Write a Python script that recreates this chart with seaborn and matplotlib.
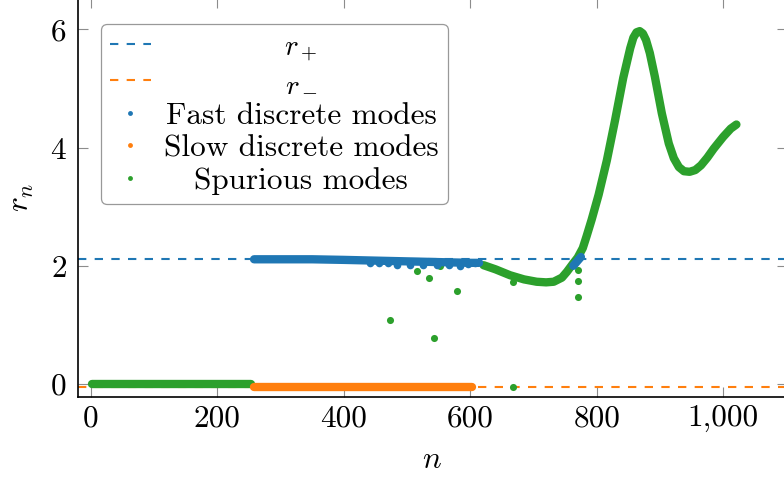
import numpy as np
import pandas as pd
import seaborn as sns
import matplotlib.pyplot as plt
from matplotlib.lines import Line2D
from matplotlib.ticker import FuncFormatter
from matplotlib.transforms import IdentityTransform

# reference levels r_+ and r_-
r_plus = 2.11
r_minus = -0.05

# spurious modes, flat branch near zero
spur_low_n = [1, 64, 128, 192, 253]
spur_low_r = [0.0, 0.0, 0.0, 0.0, 0.0]

# slow discrete modes
slow_n = [258, 344, 430, 516, 603]
slow_r = [-0.05, -0.05, -0.05, -0.05, -0.05]

# fast discrete modes (dense band)
fast_n = [258, 300, 350, 400, 440, 480, 520, 560, 600, 614]
fast_r = [2.11, 2.11, 2.11, 2.10, 2.09, 2.08, 2.07, 2.06, 2.05, 2.05]

# fast discrete modes scattered just below the band
fast_pts_n = [441, 455, 470, 484, 505, 526, 548, 566, 584, 597, 608]
fast_pts_r = [2.04, 2.05, 2.04, 2.01, 2.02, 2.01, 2.02, 2.01, 1.99, 2.03, 2.05]

# fast discrete modes near n = 770
fast_tail_n = [763, 767, 771, 775]
fast_tail_r = [2.00, 2.05, 2.10, 2.15]

# spurious modes, continuous branch
spur_n = [621, 640, 663, 685, 705, 720, 732, 745, 753, 762, 770, 778, 784, 792,
          803, 816, 829, 842, 853, 858, 863, 868, 873, 878, 884, 892, 903, 914,
          922, 930, 938, 947, 956, 965, 975, 985, 1000, 1012, 1021]
spur_r = [2.01, 1.94, 1.84, 1.77, 1.73, 1.72, 1.73, 1.80, 1.90, 2.03, 2.14, 2.30, 2.50, 2.78,
          3.20, 3.78, 4.46, 5.18, 5.68, 5.86, 5.95, 5.97, 5.93, 5.82, 5.60, 5.20, 4.58, 4.07,
          3.82, 3.67, 3.60, 3.59, 3.62, 3.70, 3.83, 3.98, 4.18, 4.32, 4.39]

# isolated spurious modes
iso_n = [473, 515, 535, 542, 552, 579, 667, 668, 771, 771, 770]
iso_r = [1.08, 1.92, 1.80, 0.77, 1.99, 1.58, 1.73, -0.05, 1.93, 1.74, 1.48]

xticks = [0, 200, 400, 600, 800, 1000]
yticks = [0, 2, 4, 6]

blue, orange, green = '#1f77b4', '#ff7f0e', '#2ca02c'

sns.set_theme(style='ticks')
plt.rcParams['font.family'] = ['cmr10']
plt.rcParams['mathtext.fontset'] = 'cm'
plt.rcParams['axes.formatter.use_mathtext'] = True
plt.rcParams['axes.unicode_minus'] = False
plt.rcParams['text.color'] = 'black'
plt.rcParams['axes.labelcolor'] = 'black'
fs = 22.5
fs_math = 21  # subscript minus vanishes at larger sizes

fig = plt.figure(figsize=(7.84, 4.82), dpi=100)
ax = fig.add_axes([0.0991, 0.1757, 0.9047, 0.8284])

band = dict(linewidth=6.0, solid_capstyle='round', solid_joinstyle='round',
            estimator=None, sort=False, legend=False)

ax.axhline(r_plus, color=blue, lw=1.5, ls=(0, (4, 4)), zorder=1)
ax.axhline(r_minus, color=orange, lw=1.5, ls=(0, (4, 4)), zorder=1)

sns.lineplot(x=spur_low_n, y=spur_low_r, color=green, ax=ax, **band)
sns.lineplot(x=spur_n, y=spur_r, color=green, ax=ax, **band)
sns.scatterplot(x=iso_n, y=iso_r, color=green, s=26, linewidth=0, ax=ax, legend=False)
sns.lineplot(x=slow_n, y=slow_r, color=orange, ax=ax, **band)
sns.lineplot(x=fast_n, y=fast_r, color=blue, ax=ax, **band)
sns.scatterplot(x=fast_pts_n, y=fast_pts_r, color=blue, s=30, linewidth=0, ax=ax, legend=False)
sns.lineplot(x=fast_tail_n, y=fast_tail_r, color=blue, ax=ax, **band)

ax.set_xlim(-21, 1101)
ax.set_ylim(-0.225, 6.53)
ax.set_xticks(xticks)
ax.set_yticks(yticks)
ax.xaxis.set_major_formatter(FuncFormatter(lambda v, p: f'{v:,.0f}'))
ax.tick_params(direction='in', length=7, width=0.8, color='0.55', labelsize=fs,
               top=True, right=True, labelcolor='black')
ax.tick_params(axis='y', pad=8)
ax.tick_params(axis='x', pad=5)
for sp in ax.spines.values():
    sp.set_color('black')
    sp.set_linewidth(1.2)
ax.set_xlabel('$n$', fontsize=fs, labelpad=10)
ax.set_ylabel('$r_n$', fontsize=fs, labelpad=10)

handles = [
    Line2D([], [], color=blue, lw=1.5, ls=(0, (4, 4))),
    Line2D([], [], color=orange, lw=1.5, ls=(0, (4, 4))),
    Line2D([], [], ls='', marker='o', ms=3.5, mew=0, color=blue),
    Line2D([], [], ls='', marker='o', ms=3.5, mew=0, color=orange),
    Line2D([], [], ls='', marker='o', ms=3.5, mew=0, color=green),
]
labels = ['$r_+$', '$r_-$', 'Fast discrete modes', 'Slow discrete modes', 'Spurious modes']
sizes = [fs_math, fs_math, fs, fs, fs]
leg = ax.legend(handles, labels, loc='upper left', bbox_to_anchor=(0.0324, 0.935),
                borderaxespad=0, fontsize=fs, handlelength=1.3, handletextpad=0.42,
                borderpad=0.3, labelspacing=0.15, frameon=True, fancybox=True,
                edgecolor='0.6', framealpha=1)
leg.get_frame().set_linewidth(0.9)

# centre the legend labels in their column, as pgfplots does
fig.canvas.draw()
texts = leg.get_texts()
widest = max([t.get_window_extent() for t in texts], key=lambda b: b.width)
cx = (widest.x0 + widest.x1) / 2
for t, lab, sz in zip(texts, labels, sizes):
    x0, y0 = t.get_transform().transform(t.get_position())
    t.set_alpha(0)
    fig.text(cx, y0, lab, transform=IdentityTransform(), ha='center', va='baseline',
             fontsize=sz, color='black', zorder=10)

fig.savefig('out.png', dpi=100)
